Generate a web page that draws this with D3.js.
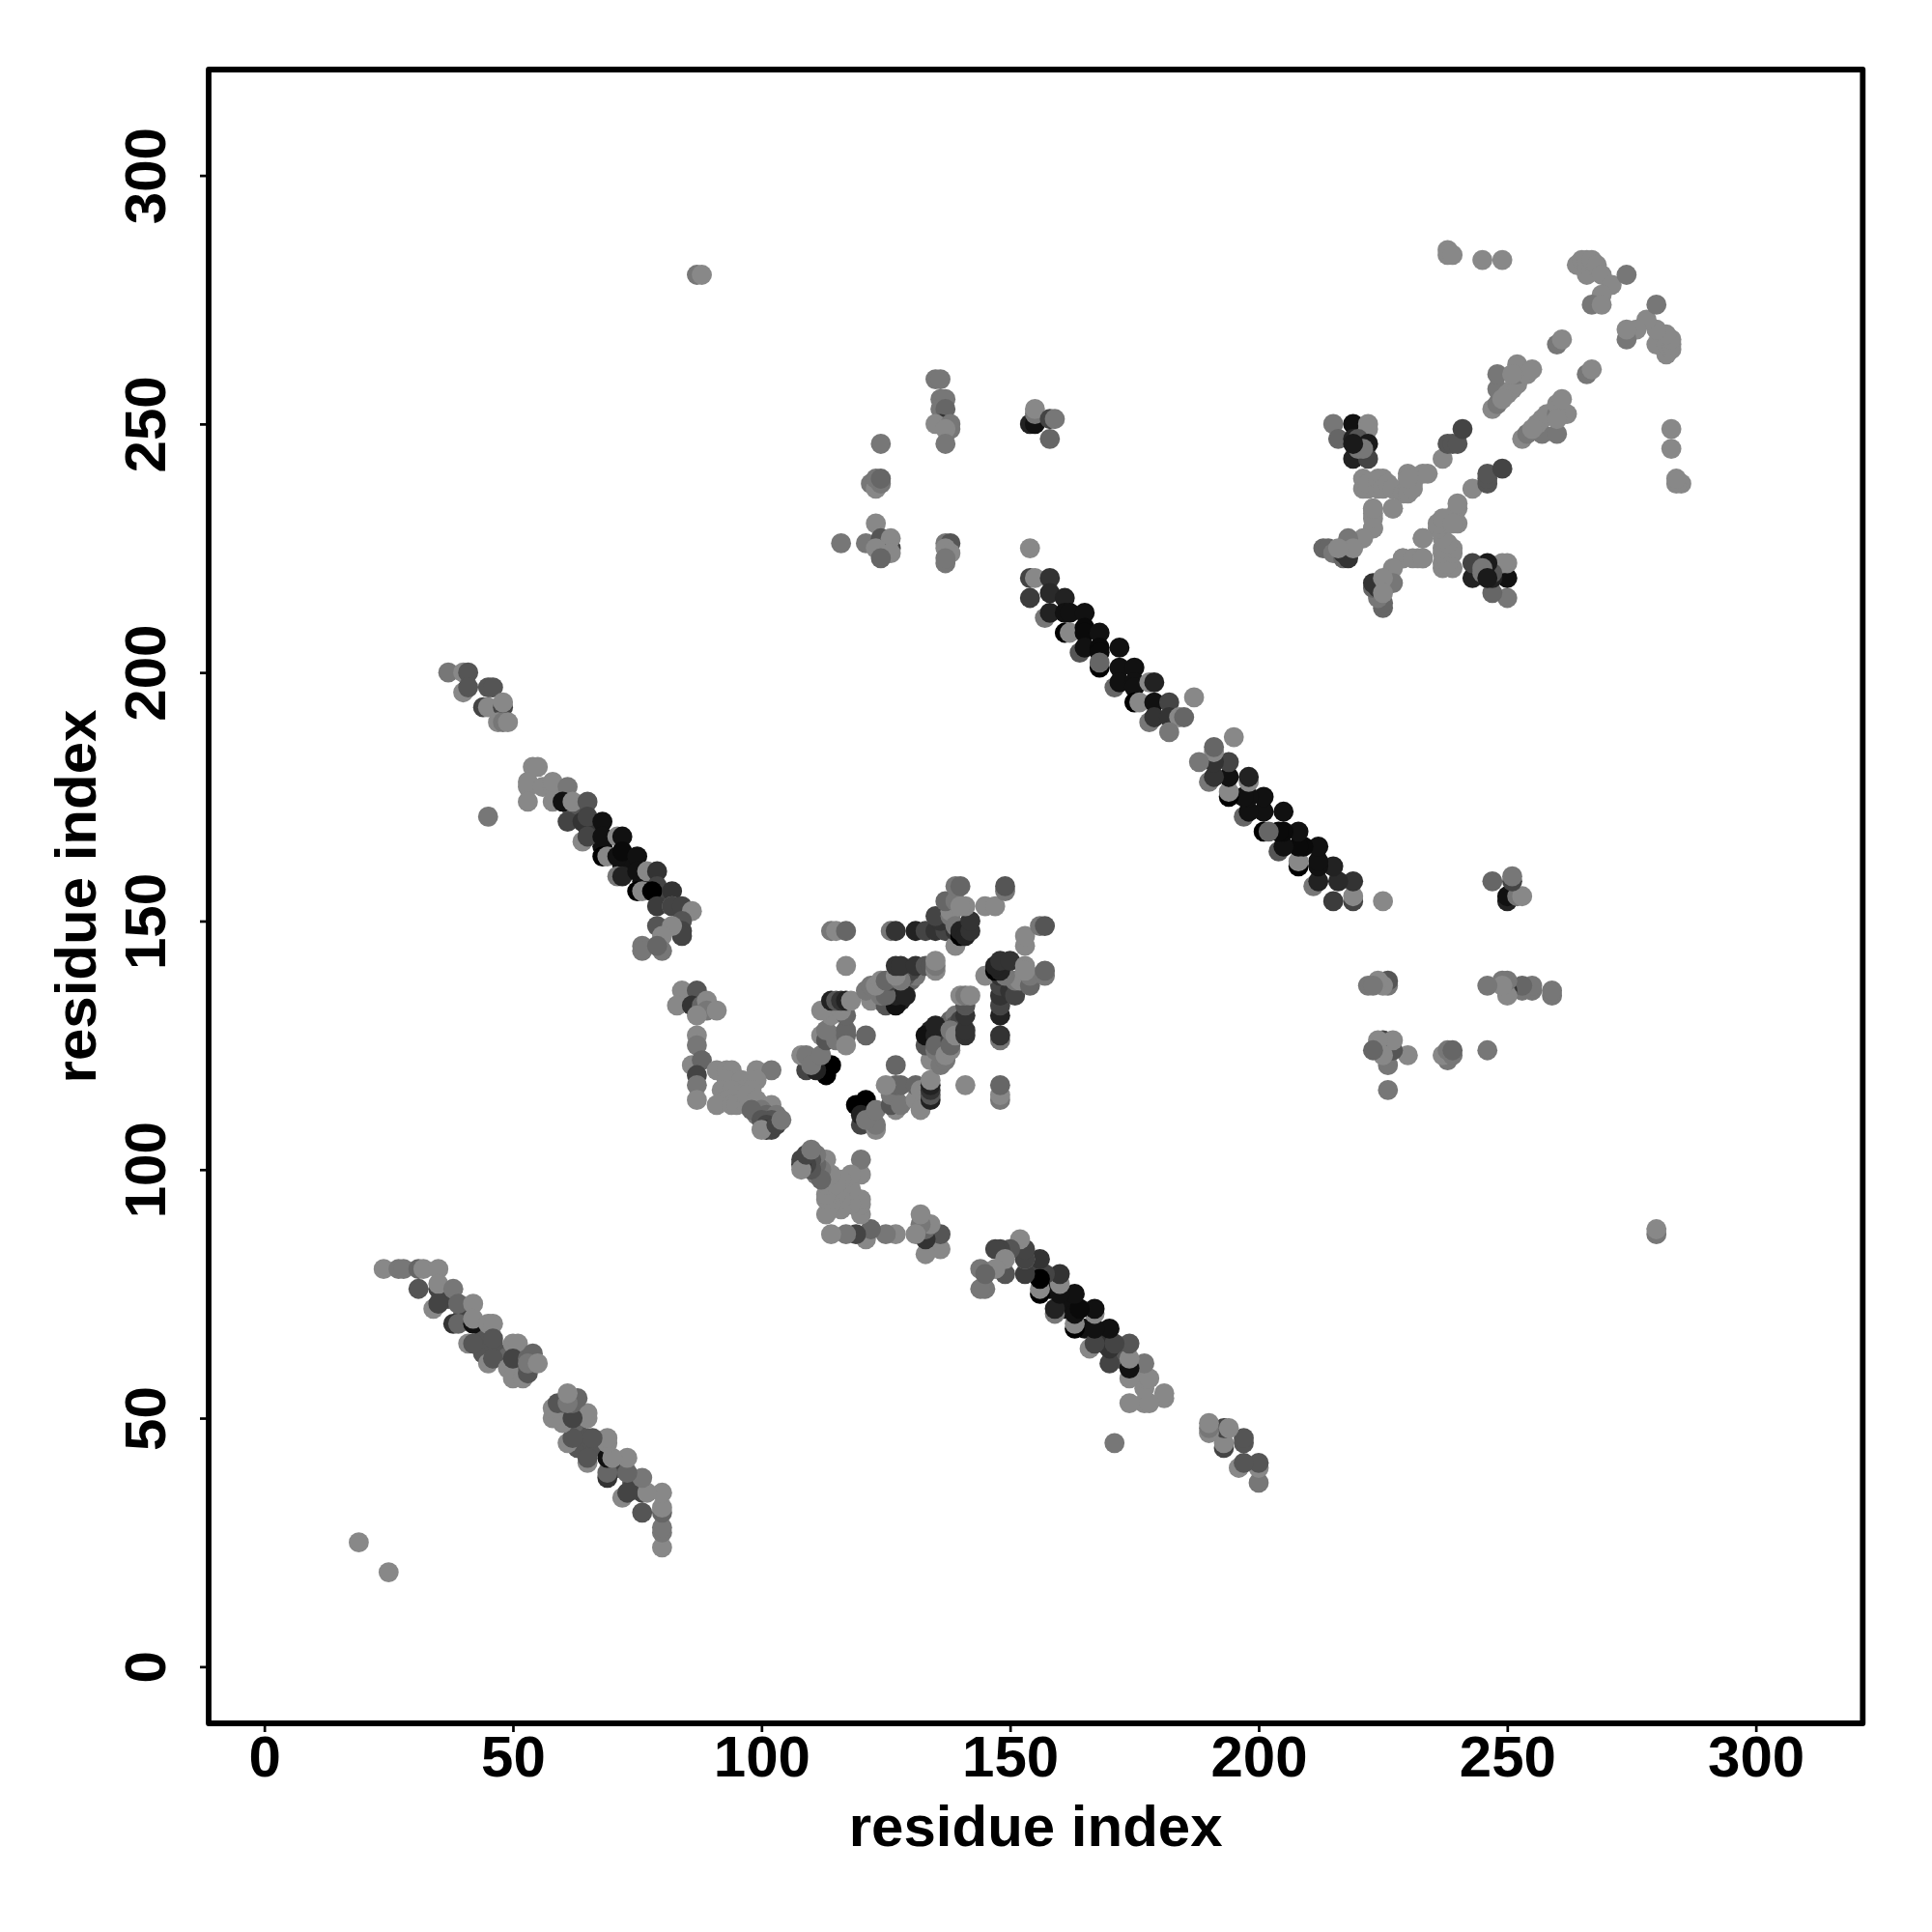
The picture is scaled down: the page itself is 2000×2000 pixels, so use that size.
<!DOCTYPE html>
<html>
<head>
<meta charset="utf-8">
<script src="https://cdn.jsdelivr.net/npm/d3@7/dist/d3.min.js"></script>
<style>
html,body{margin:0;padding:0;background:#fff}
svg{display:block}
text{font-family:"Liberation Sans",Arial,sans-serif;font-weight:bold;fill:#000}
</style>
</head>
<body>
<div id="chart"></div>
<script>
// Contact lists: [residue i, residue j, grey level]; every contact is symmetric (i,j)/(j,i).
const isolatedContacts = [[19,25,136],[45,171,119],[87,280,119],[88,280,136]];
const strandNterm = [[37,74,85],[36,74,68],[40,71,85],[41,70,68],[44,66,85],[44,63,85],[47,63,85],[48,62,102],[51,60,119],[52,60,102],[52,62,102],[24,80,136],[27,80,119],[28,80,119],[31,80,102],[32,80,136],[35,80,136],[31,76,85],[35,76,68],[35,77,136],[38,76,119],[34,72,136],[35,73,68],[39,73,102],[42,73,136],[38,69,51],[39,69,102],[42,69,17],[42,70,136],[45,69,136],[46,69,136],[41,65,136],[42,65,85],[46,65,85],[46,66,85],[50,65,136],[51,65,136],[45,61,136],[46,62,85],[49,60,136],[50,58,136],[52,58,136],[50,62,68],[53,62,102],[54,63,102],[53,59,85],[53,61,119],[55,61,136]];
const strandMiddle = [[68,165,17],[72,161,17],[76,158,17],[65,169,51],[62,172,85],[81,154,68],[37,200,119],[40,200,136],[41,200,85],[40,196,136],[41,197,85],[45,197,85],[46,197,85],[44,193,68],[45,193,136],[48,193,68],[48,194,136],[47,190,136],[48,190,119],[49,190,136],[54,181,136],[55,181,136],[53,177,136],[53,178,136],[53,174,136],[56,177,136],[58,177,136],[58,178,136],[58,174,136],[61,177,119],[60,174,17],[62,174,136],[65,174,85],[61,170,68],[64,170,51],[65,171,68],[68,170,17],[64,166,136],[65,167,68],[68,167,17],[68,163,0],[69,163,136],[71,167,136],[72,167,17],[71,163,17],[72,164,10],[75,163,17],[71,159,119],[72,159,34],[75,160,17],[75,156,0],[76,156,136],[77,160,136],[79,160,51],[79,157,68],[78,156,0],[82,156,51],[79,153,60],[82,153,136],[82,153,68],[84,153,68],[86,152,136],[79,149,85],[84,150,85],[84,148,68],[84,147,68],[82,149,136],[80,147,136],[80,144,119],[76,145,119],[76,144,119],[79,145,102]];
const strandLong = [[154,225,136],[154,219,68],[155,219,136],[158,219,51],[154,215,60],[158,216,42],[157,211,119],[158,212,34],[161,215,34],[161,212,17],[162,212,17],[165,212,17],[161,208,0],[162,208,136],[165,209,10],[165,208,10],[164,204,85],[165,205,17],[168,208,17],[168,205,10],[168,204,10],[168,201,0],[168,202,102],[172,205,17],[172,201,17],[175,201,17],[171,197,102],[172,198,17],[175,198,17],[175,197,17],[175,194,0],[176,194,136],[178,198,136],[179,198,34],[179,194,17],[178,190,119],[179,191,51],[182,194,68],[182,191,51],[184,191,136],[185,191,102],[182,188,119],[187,195,136]];
const helixTurn = [[84,136,136],[87,136,85],[83,133,136],[86,133,51],[88,133,102],[89,134,136],[89,132,119],[91,132,136],[87,131,136],[87,127,136],[87,125,119],[86,121,136],[88,122,102],[87,119,68],[87,117,119],[87,114,136],[91,120,136],[93,120,136],[94,120,136],[99,120,136],[102,120,119],[93,118,136],[96,118,136],[99,118,136],[96,116,136],[98,116,136],[92,116,136],[94,116,136],[95,115,136],[93,114,136],[91,113,136],[94,113,136],[95,113,136],[97,113,136],[97,115,136],[99,114,136],[102,113,136],[100,112,119],[99,111,119],[101,111,102],[103,111,119],[98,112,102],[102,110,85],[100,110,85],[101,109,68],[101,108,51],[102,108,68],[100,108,136],[103,109,68],[104,110,119]];
const sheetCentre = [[113,119,0],[114,121,0],[109,120,68],[111,120,34],[108,123,136],[110,122,119],[109,123,119],[110,121,119],[112,123,119],[112,127,136],[114,127,119],[113,126,85],[115,126,119],[113,128,119],[117,127,102],[117,128,102],[117,125,136],[121,127,102],[114,131,136],[112,132,136],[117,131,102],[116,132,136],[114,134,34],[115,134,85],[116,134,51],[117,134,34],[118,134,136],[123,135,102],[124,134,119],[122,134,136],[121,136,119],[124,136,136],[125,133,85],[124,135,119],[122,137,119],[125,137,119],[126,137,102],[128,136,68],[129,137,119],[130,138,102],[131,139,119],[125,136,85],[129,139,85],[130,140,68],[128,140,85],[127,134,0],[128,134,34],[126,135,51],[127,133,17],[127,135,34],[129,135,34],[125,135,102],[123,137,136],[124,138,136],[126,138,68],[125,138,102],[128,138,119],[127,139,136],[127,141,51],[128,141,51],[131,141,51],[133,141,85],[134,141,85],[135,140,136],[135,141,119],[135,142,136],[117,141,136],[114,148,119],[115,148,136],[117,148,102],[126,148,119],[127,148,51],[131,148,34],[133,148,68],[135,148,51],[137,148,68],[136,150,51],[135,151,68],[138,151,119],[138,152,136],[139,145,136],[139,148,51],[139,149,119],[140,147,0],[140,148,34],[141,147,34],[142,148,51],[142,150,51],[137,154,102],[139,154,119],[141,153,136],[140,153,136],[145,153,136],[147,153,136],[139,157,119],[140,157,102],[149,156,119],[149,157,85]];
const distantPairs = [[135,259,119],[136,259,119],[136,255,119],[137,255,119],[136,253,119],[137,253,102],[136,250,51],[135,250,136],[138,250,119],[138,249,119],[137,249,136],[137,246,119],[154,250,34],[155,250,17],[155,252,119],[155,253,136],[158,251,68],[159,251,119],[158,247,102],[124,246,119],[122,238,119],[123,238,119],[123,237,136],[124,238,119],[123,239,119],[124,239,102],[123,230,136],[116,226,119],[121,226,119],[124,227,85],[126,225,68],[126,227,136],[124,224,85],[126,224,136],[123,225,136],[124,223,102],[137,226,119],[138,226,85],[137,225,136],[138,224,136],[137,222,119],[137,223,119]];
const domainNear = [[215,250,119],[216,247,102],[219,250,17],[222,250,136],[222,249,136],[219,247,34],[220,247,85],[222,246,26],[219,243,34],[222,243,68],[220,245,119],[221,245,119],[219,246,26],[221,239,136],[221,237,136],[222,237,136],[222,238,136],[224,237,136],[224,239,136],[225,239,136],[225,237,136],[226,238,136],[227,237,136],[229,236,136],[230,237,136],[231,238,136],[230,240,136],[233,240,136],[234,240,136],[230,236,136],[231,237,136],[230,239,136],[223,233,136],[223,232,136],[227,233,136],[223,229,136],[229,223,136],[231,223,136],[233,223,136],[233,227,136],[221,227,136],[218,227,119],[213,225,102],[214,225,102],[215,224,119],[217,223,102],[217,224,51],[218,223,51],[219,225,136],[225,216,136],[237,243,136],[238,246,85],[239,246,85],[240,246,85],[241,249,68],[247,253,136],[248,254,119],[248,257,119],[248,260,119],[250,256,136],[251,257,136],[252,258,136],[252,260,119],[252,262,136],[254,260,136],[255,261,136],[251,260,136],[249,255,136],[260,266,119],[261,267,136]];
const domainFar = [[264,282,136],[265,283,136],[266,280,136],[266,282,136],[266,283,136],[267,283,136],[268,282,136],[269,280,136],[271,278,136],[269,276,136],[267,274,119],[269,274,136],[274,280,119],[245,283,136],[249,283,136],[238,285,136],[238,284,136],[239,284,136]];
const tickLabels = [0, 50, 100, 150, 200, 250, 300];
const axisTitle = "residue index";

const xDomain = [-11.2, 321.5], yDomain = [-11.4, 321.3];
const plotLeft = 216, plotRight = 1928.3, plotTop = 72, plotBottom = 1784;

const contacts = [isolatedContacts, strandNterm, strandMiddle, strandLong, helixTurn, sheetCentre, distantPairs, domainNear, domainFar].flat();

const svg = d3.select("#chart").append("svg").attr("width", 2000).attr("height", 2000);
const x = d3.scaleLinear().domain(xDomain).range([plotLeft, plotRight]);
const y = d3.scaleLinear().domain(yDomain).range([plotBottom, plotTop]);

svg.append("g").selectAll("circle")
  .data(contacts.flatMap(([i, j, g]) => [{a: i, b: j, g}, {a: j, b: i, g}]))
  .join("circle")
  .attr("cx", d => x(d.a)).attr("cy", d => y(d.b)).attr("r", 10.4)
  .attr("fill", d => d3.rgb(d.g, d.g, d.g));

const xAxis = svg.append("g").attr("transform", `translate(0,${plotBottom})`)
  .call(d3.axisBottom(x).tickValues(tickLabels).tickFormat(d3.format("d")).tickSize(9));
const yAxis = svg.append("g").attr("transform", `translate(${plotLeft},0)`)
  .call(d3.axisLeft(y).tickValues(tickLabels).tickFormat(d3.format("d")).tickSize(9));
[xAxis, yAxis].forEach(g => {
  g.select(".domain").remove();
  g.selectAll("line").attr("stroke", "#000").attr("stroke-width", 2.7);
  g.selectAll("text").style("font-size", "60px").style("font-family", '"Liberation Sans",Arial,sans-serif').style("font-weight", "bold").attr("fill", "#000");
});
xAxis.selectAll("text").attr("dy", null).attr("y", 55);
yAxis.selectAll("text").attr("x", 0).attr("y", 0).attr("dy", null)
  .attr("text-anchor", "middle")
  .attr("transform", "translate(-45,0) rotate(-90)");

svg.append("rect").attr("x", plotLeft).attr("y", plotTop).attr("width", plotRight - plotLeft).attr("height", plotBottom - plotTop)
  .attr("fill", "none").attr("stroke", "#000").attr("stroke-width", 5.8).attr("stroke-linejoin", "round");

svg.append("text").attr("x", (plotLeft + plotRight) / 2).attr("y", 1911).attr("text-anchor", "middle")
  .style("font-size", "60px").text(axisTitle);
svg.append("text").attr("transform", `translate(99,${(plotTop + plotBottom) / 2}) rotate(-90)`).attr("text-anchor", "middle")
  .style("font-size", "60px").text(axisTitle);
</script>
</body>
</html>
